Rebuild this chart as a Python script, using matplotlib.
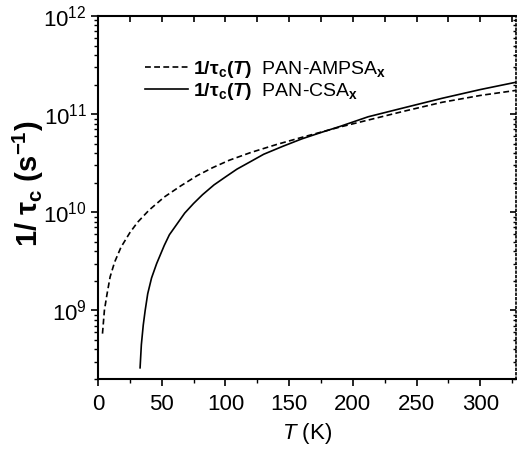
import numpy as np
import matplotlib
matplotlib.use("Agg")
import matplotlib.pyplot as plt
import matplotlib.ticker as ticker

plt.rcParams['font.family'] = ['Liberation Sans', 'DejaVu Sans']
plt.rcParams['mathtext.fontset'] = 'custom'
plt.rcParams['mathtext.rm'] = 'Liberation Sans'
plt.rcParams['mathtext.it'] = 'Liberation Sans:italic'
plt.rcParams['mathtext.bf'] = 'Liberation Sans:bold'
plt.rcParams['mathtext.bfit'] = 'Liberation Sans:italic:bold'

# 1/tau_c(T) for PAN-AMPSA_x (dashed)
tempAmpsa = [3.5, 5, 7, 9.5, 13, 18, 25, 31, 40, 52, 65, 78, 90, 103, 120, 140,
             160, 190, 212, 240, 270, 300, 330]
rateAmpsa = [5.8e8, 1.0e9, 1.45e9, 2.2e9, 3.1e9, 4.4e9, 6.2e9, 7.9e9, 1.05e10,
             1.43e10, 1.86e10, 2.37e10, 2.85e10, 3.39e10, 4.07e10, 4.9e10,
             5.8e10, 7.4e10, 8.7e10, 1.07e11, 1.32e11, 1.55e11, 1.76e11]

# 1/tau_c(T) for PAN-CSA_x (solid)
tempCsa = [33, 34, 35.5, 37, 39, 42, 46, 52, 56, 62, 68, 75, 82, 91, 100, 109,
           120, 130, 145, 160, 175, 190, 212, 240, 270, 300, 330]
rateCsa = [2.6e8, 4.47e8, 7.1e8, 1.0e9, 1.48e9, 2.14e9, 3.0e9, 4.6e9, 5.9e9,
           7.6e9, 9.8e9, 1.23e10, 1.51e10, 1.9e10, 2.29e10, 2.75e10, 3.3e10,
           3.9e10, 4.7e10, 5.6e10, 6.5e10, 7.5e10, 9.4e10, 1.16e11, 1.45e11,
           1.78e11, 2.14e11]

labelAmpsa = r'$\mathbf{1/\tau_c(}\mathbfit{T}\mathbf{)}$  PAN-AMPSA$_\mathbf{x}$'
labelCsa = r'$\mathbf{1/\tau_c(}\mathbfit{T}\mathbf{)}$  PAN-CSA$_\mathbf{x}$'

fig = plt.figure(figsize=(5.17, 4.49), dpi=100)
ax = fig.add_axes([0.1896, 0.1559, 0.8085, 0.8085])

ax.plot(tempAmpsa, rateAmpsa, color='black', linestyle=(0, (3.5, 2)), linewidth=1.2,
        label=labelAmpsa)
ax.plot(tempCsa, rateCsa, color='black', linestyle='-', linewidth=1.2,
        label=labelCsa)

ax.set_yscale('log')
ax.set_xlim(0, 328)
ax.set_ylim(2e8, 1e12)

ax.xaxis.set_major_locator(ticker.MultipleLocator(50))
ax.xaxis.set_minor_locator(ticker.MultipleLocator(25))

ax.tick_params(axis='both', which='major', direction='out', length=5, width=1.2,
               labelsize=16, top=False, right=False)
ax.tick_params(axis='both', which='minor', direction='out', length=3, width=1.0,
               top=False, right=False)
ax.tick_params(axis='x', which='major', pad=6)
ax.tick_params(axis='y', which='major', pad=3)

# top axis: inward ticks every 25 K
top = ax.secondary_xaxis('top')
top.xaxis.set_major_locator(ticker.MultipleLocator(25))
top.tick_params(direction='in', length=4, width=1.2, labeltop=False)
top.spines['top'].set_linewidth(1.5)

# right axis: inward ticks, dotted spine
right = ax.secondary_yaxis('right')
right.tick_params(which='major', direction='in', length=4, width=1.2, labelright=False)
right.tick_params(which='minor', direction='in', length=2, width=1.0)
right.spines['right'].set_linestyle(':')
right.spines['right'].set_linewidth(1.2)

for side in ['left', 'bottom']:
    ax.spines[side].set_linewidth(1.5)
ax.spines['top'].set_visible(False)
ax.spines['right'].set_visible(False)

ax.set_xlabel(r'$\mathit{T}$ (K)', fontsize=16, labelpad=4)
ax.set_ylabel(r'$\mathbf{1/\ \tau_c\ (s^{-1})}$', fontsize=21)
ax.yaxis.set_label_coords(-0.125, 0.537)

ax.legend(loc='upper left', bbox_to_anchor=(0.07, 0.93), frameon=False,
          fontsize=14, handlelength=2.2, handletextpad=0.3, labelspacing=0.05)

fig.savefig('out.png', dpi=100)
